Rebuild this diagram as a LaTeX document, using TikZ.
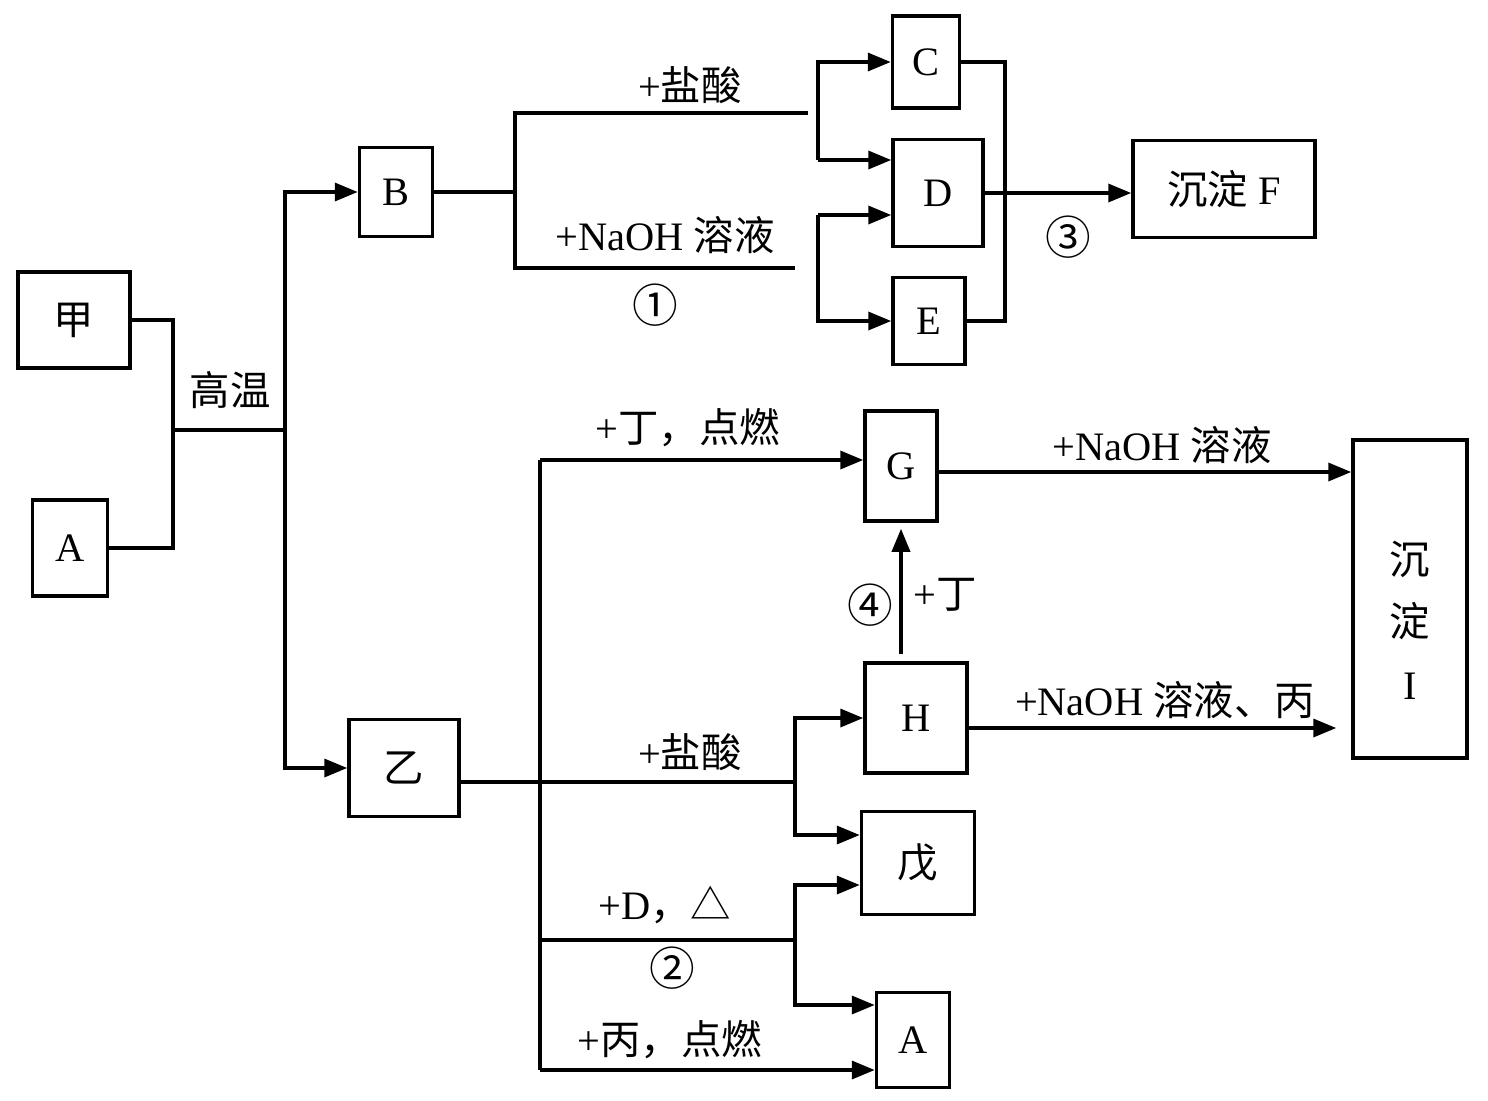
\documentclass[tikz,border=0pt]{standalone}
\usepackage{fontspec}
\setmainfont{Liberation Serif}
\newfontfamily\cjk{Noto Sans CJK SC}
\usetikzlibrary{arrows.meta}

\begin{document}
\begin{tikzpicture}[x=0.02cm, y=-0.02cm, line width=2pt,
        box/.style = {draw, inner sep=0pt, font=\fontsize{23}{27}\selectfont},
        lbl/.style = {inner sep=0pt, font=\fontsize{23}{27}\selectfont},
        num/.style = {inner sep=0pt, font=\fontsize{26}{30}\selectfont\cjk},
        >={Triangle[length=0.46cm,width=0.36cm]}]
    \useasboundingbox (0,0) rectangle (1488,1100);
    \node[box, minimum width=2.24cm, minimum height=1.92cm] (jia) at (74,320) {{\cjk 甲}};
    \node[box, minimum width=1.5cm, minimum height=1.92cm] (a1) at (70,548) {A};
    \node[box, minimum width=1.46cm, minimum height=1.78cm] (b) at (396,192) {B};
    \node[box, minimum width=1.34cm, minimum height=1.84cm] (c) at (926,62) {C};
    \node[box, minimum width=1.8cm, minimum height=2.14cm] (d) at (938,193) {D};
    \node[box, minimum width=1.44cm, minimum height=1.74cm] (e) at (929,321) {E};
    \node[box, minimum width=3.64cm, minimum height=1.94cm] (f) at (1224,189) {{\cjk 沉淀} F};
    \node[box, minimum width=1.44cm, minimum height=2.2cm] (g) at (901,466) {G};
    \node[box, minimum width=2.04cm, minimum height=2.2cm] (h) at (916,718) {H};
    \node[box, minimum width=2.26cm, minimum height=2.06cm] (wu) at (918,863) {{\cjk 戊}};
    \node[box, minimum width=1.46cm, minimum height=1.9cm] (a2) at (913,1040) {A};
    \node[box, minimum width=2.2cm, minimum height=1.94cm] (yi) at (404,768) {{\cjk 乙}};
    \node[box, minimum width=2.28cm, minimum height=6.36cm] (ii) at (1410,599) {};
    \node[lbl, align=center] (iit) at (1410,620) {{\cjk 沉}\\[0.3cm]{\cjk 淀}\\[0.3cm]I};
    \coordinate (jx) at (173,430);
    \coordinate (tr) at (285,430);
    \coordinate (bx) at (515,192);
    \coordinate (hcl1) at (808,113);
    \coordinate (naoh1) at (795,268);
    \coordinate (k1) at (818,160);
    \coordinate (k2) at (818,215);
    \coordinate (m) at (1005,193);
    \coordinate (yx) at (795,782);
    \coordinate (t2) at (540,782);
    \coordinate (t2a) at (540,460);
    \coordinate (t2b) at (540,1070);
    \coordinate (r1) at (795,835);
    \coordinate (dl) at (540,940);
    \coordinate (dx) at (795,940);
    \coordinate (r2) at (795,885);
    \coordinate (r3) at (795,1005);
    \coordinate (gq) at (1000,472);
    \coordinate (hq) at (1000,728);
    \draw (jia.east) -| (jx) |- (a1.east);
    \draw (jx) -- (tr);
    \draw[->] (tr) |- (b);
    \draw[->] (tr) |- (yi);
    \draw (b) -- (bx);
    \draw (hcl1) -| (bx) |- (naoh1);
    \draw[->] (k1) |- (c);
    \draw[->] (k1) -- (k1 -| d.west);
    \draw[->] (k2) -- (k2 -| d.west);
    \draw[->] (k2) |- (e);
    \draw (c.east) -| (m) |- (e.east);
    \draw[->] (d.east) -- (d.east -| f.west);
    \draw (yi.east |- yx) -- (yx);
    \draw (t2a) -- (t2b);
    \draw[->] (t2a) -- (t2a -| g.west);
    \draw[->] (t2b) -- (t2b -| a2.west);
    \draw[->] (yx) |- (h);
    \draw[->] (yx) -- (r1) -- (r1 -| wu.west);
    \draw (dl) -- (dx);
    \draw[->] (dx) -- (r2) -- (r2 -| wu.west);
    \draw[->] (dx) -- (r3) -- (r3 -| a2.west);
    \draw[->] (g.east |- gq) -- (gq -| ii.west);
    \draw[->, shorten >=0.3cm] (h.east |- hq) -- (hq -| ii.west);
    \draw[->, shorten >=0.12cm, shorten <=0.15cm] (h.north -| g.south) -- (g.south);
    \node[lbl] (gw) at (230,390) {{\cjk 高温}};
    \node[lbl] (l1) at (690,85) {+{\cjk 盐酸}};
    \node[lbl] (l2) at (665,235) {+NaOH {\cjk 溶液}};
    \node[num] (n1) at (655,305) {①};
    \node[num] (n3) at (1068,237) {③};
    \node[lbl] (l3) at (688,428) {+{\cjk 丁，点燃}};
    \node[lbl] (l4) at (1162,445) {+NaOH {\cjk 溶液}};
    \node[num] (n4) at (870,605) {④};
    \node[lbl] (l5) at (945,595) {+{\cjk 丁}};
    \node[lbl] (l6) at (1165,700) {+NaOH {\cjk 溶液、丙}};
    \node[lbl] (l7) at (690,752) {+{\cjk 盐酸}};
    \node[lbl] (l8) at (665,905) {+D{\cjk ，△}};
    \node[num] (n2) at (672,968) {②};
    \node[lbl] (l9) at (670,1040) {+{\cjk 丙，点燃}};
\end{tikzpicture}
\end{document}
